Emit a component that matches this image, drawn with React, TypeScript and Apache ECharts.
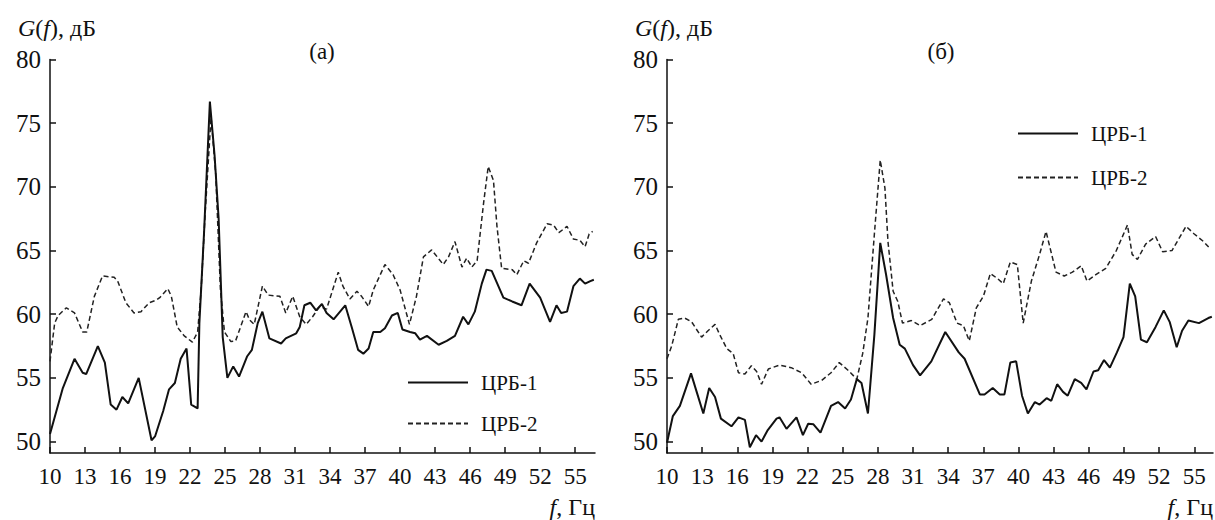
import React, { useEffect, useRef } from "react";
import * as echarts from "echarts";

// ---- Panel (а) ----
const aFreq1 = [10.0, 11.1, 12.1, 12.8, 13.1, 14.1, 14.7, 15.2, 15.7, 16.2, 16.7, 17.6, 18.7, 19.0, 19.7, 20.2, 20.7, 21.2, 21.7, 22.1, 22.65, 22.8, 23.2, 23.7, 24.1, 24.45, 24.8, 25.2, 25.7, 26.2, 26.9, 27.3, 27.8, 28.2, 28.8, 29.8, 30.2, 31.1, 31.4, 31.8, 32.3, 32.8, 33.3, 33.7, 34.3, 35.3, 35.85, 36.4, 36.85, 37.3, 37.7, 38.3, 38.7, 39.3, 39.8, 40.2, 40.85, 41.3, 41.7, 42.3, 43.3, 44.0, 44.7, 45.4, 45.85, 46.4, 47.0, 47.4, 47.85, 48.85, 49.6, 50.4, 51.1, 52.0, 52.85, 53.4, 53.8, 54.3, 54.85, 55.4, 55.85, 56.3, 56.6];
const aVal1 = [50.6, 54.2, 56.5, 55.4, 55.3, 57.5, 56.2, 52.9, 52.5, 53.5, 53.0, 55.0, 50.1, 50.4, 52.4, 54.1, 54.6, 56.5, 57.3, 52.9, 52.6, 59.3, 66.4, 76.7, 72.5, 67.5, 58.2, 55.0, 55.9, 55.1, 56.7, 57.2, 59.3, 60.2, 58.1, 57.7, 58.1, 58.5, 59.0, 60.7, 60.9, 60.3, 60.8, 60.1, 59.6, 60.7, 59.0, 57.2, 56.9, 57.3, 58.6, 58.6, 58.9, 59.9, 60.1, 58.8, 58.6, 58.5, 58.0, 58.3, 57.6, 57.9, 58.3, 59.8, 59.2, 60.2, 62.4, 63.5, 63.4, 61.3, 61.0, 60.7, 62.4, 61.3, 59.4, 60.7, 60.1, 60.2, 62.2, 62.8, 62.4, 62.6, 62.7];
const aFreq2 = [10.0, 10.4, 10.7, 11.4, 12.1, 12.8, 13.15, 13.8, 14.5, 15.5, 15.8, 16.5, 17.2, 17.8, 18.5, 19.1, 19.4, 20.1, 20.4, 20.9, 21.5, 22.2, 22.65, 22.95, 23.3, 23.8, 24.2, 24.6, 24.95, 25.5, 25.9, 26.8, 27.1, 27.5, 28.2, 28.7, 29.7, 30.2, 30.8, 31.4, 31.95, 32.5, 33.1, 33.7, 34.7, 35.1, 35.7, 36.3, 36.7, 37.3, 37.7, 38.7, 39.4, 40.0, 40.8, 41.4, 42.0, 42.7, 43.7, 44.15, 44.7, 45.3, 45.7, 46.15, 46.6, 47.15, 47.55, 48.0, 48.3, 48.7, 49.6, 50.0, 50.6, 51.0, 51.7, 52.6, 53.15, 53.6, 54.3, 54.85, 55.4, 55.85, 56.2, 56.5];
const aVal2 = [56.3, 59.3, 59.9, 60.5, 60.1, 58.6, 58.6, 61.4, 63.0, 62.9, 62.6, 60.9, 60.1, 60.2, 60.9, 61.1, 61.3, 62.0, 61.4, 59.0, 58.3, 57.8, 58.6, 61.9, 68.0, 75.5, 71.0, 62.0, 58.6, 57.85, 57.9, 60.2, 59.55, 59.2, 62.2, 61.5, 61.4, 60.1, 61.4, 59.8, 59.2, 59.8, 60.6, 60.4, 63.3, 62.2, 61.2, 61.8, 61.4, 60.6, 61.9, 63.9, 63.1, 61.9, 59.2, 61.4, 64.5, 65.05, 63.9, 64.5, 65.7, 63.7, 64.4, 63.7, 64.2, 68.7, 71.6, 70.5, 66.9, 63.6, 63.5, 63.1, 64.2, 64.0, 65.6, 67.1, 67.0, 66.4, 66.9, 65.9, 65.8, 65.3, 66.3, 66.5];

// ---- Panel (б) ----
const bFreq1 = [10.0, 10.5, 11.1, 12.05, 12.5, 13.1, 13.6, 14.1, 14.6, 15.5, 16.1, 16.65, 17.07, 17.6, 18.07, 18.6, 19.35, 19.6, 20.2, 21.05, 21.6, 22.05, 22.5, 23.1, 24.0, 24.6, 25.2, 25.7, 26.2, 26.6, 27.15, 27.7, 28.2, 28.7, 29.3, 29.86, 30.3, 31.0, 31.6, 32.56, 33.75, 34.9, 35.4, 36.7, 37.1, 37.8, 38.4, 38.8, 39.3, 39.8, 40.3, 40.8, 41.4, 41.8, 42.4, 42.8, 43.3, 43.8, 44.2, 44.8, 45.35, 45.8, 46.4, 46.8, 47.3, 47.8, 48.4, 48.96, 49.5, 49.96, 50.45, 50.96, 51.7, 52.4, 52.9, 53.5, 53.96, 54.5, 55.4, 56.2, 56.5];
const bVal1 = [49.9, 52.0, 52.8, 55.35, 54.0, 52.2, 54.2, 53.5, 51.8, 51.2, 51.9, 51.7, 49.55, 50.5, 50.0, 50.9, 51.8, 51.9, 51.0, 51.9, 50.5, 51.4, 51.35, 50.7, 52.8, 53.1, 52.6, 53.3, 54.9, 54.6, 52.2, 58.4, 65.6, 63.1, 59.7, 57.6, 57.3, 56.0, 55.2, 56.3, 58.6, 57.0, 56.5, 53.7, 53.7, 54.2, 53.7, 53.7, 56.2, 56.3, 53.6, 52.2, 53.1, 52.9, 53.4, 53.2, 54.5, 53.9, 53.6, 54.9, 54.6, 54.1, 55.5, 55.6, 56.4, 55.8, 57.0, 58.2, 62.4, 61.4, 58.0, 57.8, 59.0, 60.3, 59.4, 57.4, 58.7, 59.5, 59.3, 59.7, 59.8];
const bFreq2 = [10.0, 10.4, 10.97, 11.5, 12.1, 12.95, 13.5, 14.1, 14.5, 15.1, 15.65, 16.1, 16.65, 17.2, 17.65, 18.07, 18.65, 19.6, 20.6, 21.5, 22.3, 23.2, 24.0, 24.7, 25.45, 26.2, 26.7, 27.15, 27.7, 28.2, 28.6, 28.86, 29.3, 29.7, 30.1, 30.85, 31.6, 32.6, 33.6, 34.1, 34.75, 35.3, 35.8, 36.4, 37.0, 37.6, 38.2, 38.7, 39.3, 39.9, 40.4, 41.1, 41.8, 42.35, 43.2, 43.9, 44.6, 45.35, 45.85, 46.6, 47.45, 48.35, 49.3, 49.7, 50.15, 50.85, 51.7, 52.3, 53.1, 54.3, 55.0, 55.8, 56.4];
const bVal2 = [56.5, 57.5, 59.6, 59.7, 59.4, 58.2, 58.7, 59.2, 58.4, 57.3, 56.9, 55.4, 55.3, 55.95, 55.5, 54.5, 55.7, 56.0, 55.8, 55.4, 54.5, 54.8, 55.4, 56.2, 55.6, 54.9, 56.9, 59.7, 66.3, 72.1, 69.9, 65.7, 61.8, 61.0, 59.3, 59.5, 59.1, 59.6, 61.2, 60.9, 59.3, 59.1, 57.9, 60.5, 61.4, 63.2, 62.8, 62.4, 64.1, 63.9, 59.3, 62.6, 64.7, 66.5, 63.3, 63.0, 63.3, 63.8, 62.6, 63.1, 63.6, 65.0, 67.0, 64.7, 64.3, 65.5, 66.1, 64.9, 65.0, 66.9, 66.3, 65.7, 65.1];

// ---- Axis ticks / labels ----
const xTicks = [10, 13, 16, 19, 22, 25, 28, 31, 34, 37, 40, 43, 46, 49, 52, 55];
const yTicks = [50, 55, 60, 65, 70, 75, 80];
const seriesNames = ["ЦРБ-1", "ЦРБ-2"];
const panelLabels = ["(а)", "(б)"];

const FONT = "Liberation Serif";
const INK = "#111";

const pairs = (f: number[], v: number[]) => f.map((x, i) => [x, v[i]]);

function makeX(gridIndex: number, max: number) {
  return {
    type: "value",
    gridIndex,
    min: 10,
    max,
    axisLine: { show: true, onZero: false, lineStyle: { color: INK, width: 1.5 } },
    axisTick: { show: true, inside: true, length: 6, customValues: xTicks, lineStyle: { color: INK, width: 1.5 } },
    axisLabel: { customValues: xTicks, color: INK, fontFamily: FONT, fontSize: 23, margin: 12 },
    splitLine: { show: false },
    name: "{i|f}{n|, Гц}",
    nameLocation: "end",
    nameGap: 0,
    nameTextStyle: {
      align: "right",
      verticalAlign: "top",
      fontFamily: FONT,
      padding: [42, 0, 0, 0],
      rich: {
        i: { fontFamily: FONT, fontSize: 24, fontStyle: "italic", color: INK },
        n: { fontFamily: FONT, fontSize: 24, color: INK },
      },
    },
  };
}

function makeY(gridIndex: number) {
  return {
    type: "value",
    gridIndex,
    min: 49.1,
    max: 80,
    axisLine: { show: true, onZero: false, lineStyle: { color: INK, width: 1.5 } },
    axisTick: { show: true, inside: true, length: 6, customValues: yTicks, lineStyle: { color: INK, width: 1.5 } },
    axisLabel: { customValues: yTicks, color: INK, fontFamily: FONT, fontSize: 25, margin: 9 },
    splitLine: { show: false },
    name: "{i|G}{n|(}{i|f}{n|), дБ}",
    nameLocation: "end",
    nameGap: 20,
    nameTextStyle: {
      fontFamily: FONT,
      padding: [0, 0, 0, 14],
      rich: {
        i: { fontFamily: FONT, fontSize: 24, fontStyle: "italic", color: INK },
        n: { fontFamily: FONT, fontSize: 24, color: INK },
      },
    },
  };
}

function solid(name: string, idx: number, data: number[][]) {
  return {
    type: "line",
    name,
    xAxisIndex: idx,
    yAxisIndex: idx,
    data,
    symbol: "none",
    showSymbol: false,
    z: 3,
    lineStyle: { color: INK, width: 2, type: "solid" },
    itemStyle: { color: INK },
  };
}

function dashed(name: string, idx: number, data: number[][]) {
  return {
    type: "line",
    name,
    xAxisIndex: idx,
    yAxisIndex: idx,
    data,
    symbol: "none",
    showSymbol: false,
    z: 2,
    lineStyle: { color: "#222", width: 1.5, type: [5, 3] },
    itemStyle: { color: "#222" },
  };
}

function legend(left: number, top: number, gap: number) {
  return {
    left,
    top,
    orient: "vertical",
    itemWidth: 60,
    itemHeight: 20,
    itemGap: gap,
    selectedMode: false,
    padding: 0,
    data: seriesNames,
    itemStyle: { color: "transparent", borderColor: "transparent", borderWidth: 0, opacity: 0 },
    lineStyle: { width: 2 },
    textStyle: { color: INK, fontFamily: FONT, fontSize: 21, padding: [0, 0, 0, 8] },
  };
}

export default function App() {
  const ref = useRef<HTMLDivElement>(null);
  useEffect(() => {
    if (!ref.current) return;
    const chart = echarts.init(ref.current, undefined, { renderer: "svg" });
    chart.setOption({
      animation: false,
      backgroundColor: "#ffffff",
      textStyle: { fontFamily: FONT, color: INK },
      title: [
        { text: panelLabels[0], left: 322, top: 40, textAlign: "center", padding: 0, textStyle: { fontFamily: FONT, fontSize: 23, fontWeight: "normal", color: INK } },
        { text: panelLabels[1], left: 941, top: 40, textAlign: "center", padding: 0, textStyle: { fontFamily: FONT, fontSize: 23, fontWeight: "normal", color: INK } },
      ],
      grid: [
        { left: 50, top: 59.5, width: 545, height: 393.5, containLabel: false, outerBoundsMode: "none" },
        { left: 667, top: 59.5, width: 546, height: 393.5, containLabel: false, outerBoundsMode: "none" },
      ],
      xAxis: [makeX(0, 56.7), makeX(1, 56.6)],
      yAxis: [makeY(0), makeY(1)],
      legend: [legend(407, 372, 20), legend(1017, 123, 23)],
      series: [
        dashed(seriesNames[1], 0, pairs(aFreq2, aVal2)),
        solid(seriesNames[0], 0, pairs(aFreq1, aVal1)),
        dashed(seriesNames[1], 1, pairs(bFreq2, bVal2)),
        solid(seriesNames[0], 1, pairs(bFreq1, bVal1)),
      ],
    });
    return () => chart.dispose();
  }, []);
  return (
    <div
      ref={ref}
      style={{ position: "absolute", left: 0, top: 0, width: 1215, height: 520, background: "#fff" }}
    />
  );
}
